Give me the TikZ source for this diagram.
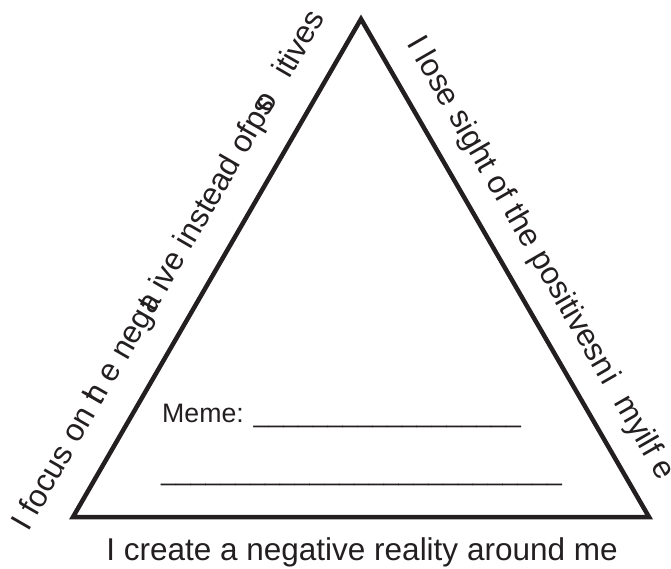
\documentclass[tikz,border=0pt]{standalone}
\usepackage{fontspec}
\setmainfont{Liberation Sans}
\definecolor{ink}{HTML}{231F20}
\newcommand\uthree{\_\_\_}
\begin{document}
\begin{tikzpicture}[x=1pt,y=-1pt,
  lbl/.style={font=\fontsize{31.5}{36}\selectfont, text=ink, inner sep=0pt},
  memetext/.style={font=\fontsize{26.7}{30}\selectfont, text=ink, inner sep=0pt, anchor=base west},
  edge/.style={draw=ink, line width=4.5pt, line join=miter}]
\useasboundingbox (0,0) rectangle (671,569);
\coordinate (A) at (361,19);
\coordinate (L) at (73,517);
\coordinate (R) at (649,517);
\draw[edge] (A) -- (R) -- (L) -- cycle;
\node[lbl, anchor=base west, rotate=60] (lefttext) at (28,533)
  {I focus on \rlap{t}h e neg\rlap{\kern0.1em t}a ive instead ofp\rlap{s}\kern0.12em o\hspace{0.7em}itives};
\node[lbl, anchor=base west, rotate=-60] (righttext) at (406,43.5)
  {I lose sight of the positivesn\kern0.05em i\hspace{0.6em}myilf e};
\node[lbl, anchor=base] (bottomtext) at (362,560) {I create a negative reality around me};
\node[memetext] (meme) at (162,422) {Meme: \uthree\uthree\uthree\uthree\uthree\uthree};
\node[memetext] (blank) at (161,480) {\uthree\uthree\uthree\uthree\uthree\uthree\uthree\uthree\uthree};
\end{tikzpicture}
\end{document}
